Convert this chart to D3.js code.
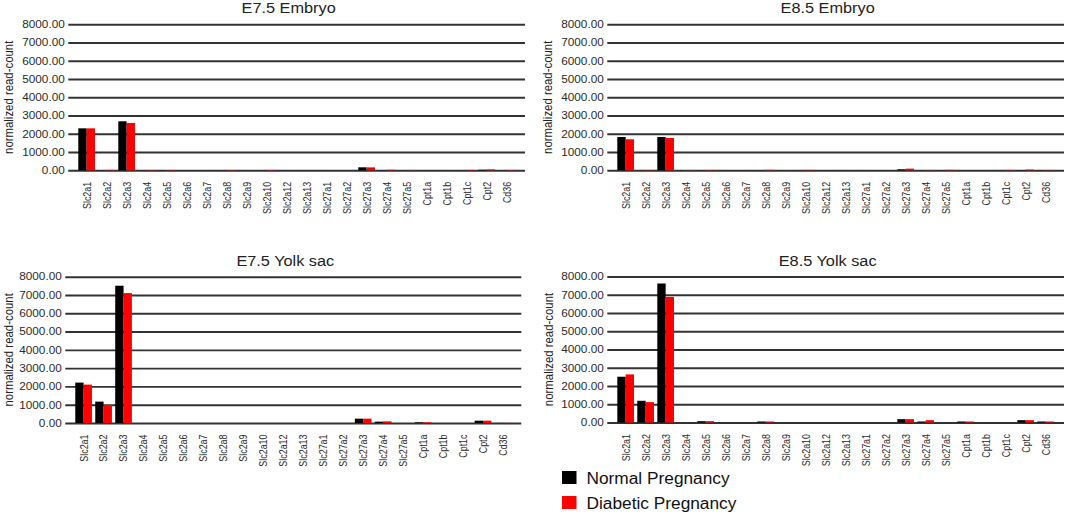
<!DOCTYPE html>
<html>
  <head>
    <meta charset="utf-8">
    <script type="text/javascript" src="https://cdn.jsdelivr.net/npm/d3@7/dist/d3.min.js"></script>
    <style>
      body { margin: 0; background: #fff; }
      svg text { font-family: "Liberation Sans", Arial, sans-serif; }
    </style>
  </head>
  <body>
    <script type="text/javascript">

    var genes = ["Slc2a1", "Slc2a2", "Slc2a3", "Slc2a4", "Slc2a5", "Slc2a6", "Slc2a7", "Slc2a8",
                 "Slc2a9", "Slc2a10", "Slc2a12", "Slc2a13", "Slc27a1", "Slc27a2", "Slc27a3",
                 "Slc27a4", "Slc27a5", "Cpt1a", "Cpt1b", "Cpt1c", "Cpt2", "Cd36"];
    var yTicks = [0, 1000, 2000, 3000, 4000, 5000, 6000, 7000, 8000];
    var seriesNames = ["Normal Pregnancy", "Diabetic Pregnancy"];
    var seriesColors = ["#000000", "#ff0000"];

    // E7.5 embryo
    var e75EmbryoNormal   = [2300, 5, 2685, 3, 5, 0, 0, 5, 0, 5, 0, 0, 0, 0, 164, 10, 5, 0, 0, 5, 30, 5];
    var e75EmbryoDiabetic = [2300, 20, 2595, 15, 15, 0, 0, 15, 0, 15, 0, 0, 0, 0, 160, 30, 5, 0, 0, 20, 50, 15];
    // E8.5 embryo
    var e85EmbryoNormal   = [1826, 5, 1826, 5, 5, 0, 0, 5, 0, 5, 0, 0, 0, 0, 55, 5, 5, 0, 0, 5, 10, 5];
    var e85EmbryoDiabetic = [1700, 20, 1772, 10, 15, 0, 0, 25, 0, 20, 0, 0, 0, 0, 90, 10, 25, 0, 0, 20, 40, 10];
    // E7.5 yolk sac
    var e75YolkNormal   = [2210, 1169, 7507, 0, 0, 0, 0, 0, 0, 0, 0, 0, 0, 0, 237, 73, 0, 37, 0, 0, 128, 5];
    var e75YolkDiabetic = [2100, 986, 7105, 0, 0, 0, 0, 0, 0, 0, 0, 0, 0, 0, 237, 91, 0, 40, 0, 0, 128, 5];
    // E8.5 yolk sac
    var e85YolkNormal   = [2508, 1190, 7616, 0, 73, 0, 0, 55, 0, 0, 0, 0, 0, 0, 183, 55, 0, 55, 0, 0, 128, 55];
    var e85YolkDiabetic = [2636, 1117, 6883, 0, 73, 0, 0, 55, 0, 0, 0, 0, 0, 0, 183, 128, 0, 55, 0, 0, 128, 55];

    var svg = d3.select("body").append("svg")
                .attr("width", 1065)
                .attr("height", 516);

    // the panels in the original look a bit wider than tall, so text is squashed vertically
    var squash = 0.87;

    function drawPanel(title, normal, diabetic, left, right, top, bottom, labelX){
      var x = d3.scaleBand().domain(genes).range([left, right])
                .paddingInner(0.165).paddingOuter(0.5);
      var sub = d3.scaleBand().domain([0, 1]).range([0, x.bandwidth()]);
      var y = d3.scaleLinear().domain([0, 8000]).range([bottom, top]);
      var g = svg.append("g");

      // gridlines + tick labels
      var yAxis = g.append("g")
                   .attr("transform", "translate(" + left + ",0)")
                   .call(d3.axisLeft(y).tickValues(yTicks).tickFormat(d3.format(".2f"))
                           .tickSize(-(right - left)).tickPadding(3.5));
      yAxis.select(".domain").remove();
      yAxis.selectAll("line").attr("stroke", "#333").attr("stroke-width", 1.9);
      yAxis.selectAll("text").attr("font-size", 11.8).attr("fill", "#2a2a2a")
           .attr("font-family", "Liberation Sans, Arial, sans-serif")
           .attr("transform", "scale(1," + squash + ")");

      // bars
      var rows = genes.map(function(d, i){ return {gene: d, vals: [normal[i], diabetic[i]]}; });
      var grp = g.selectAll(".grp").data(rows).enter().append("g")
                 .attr("transform", function(d){ return "translate(" + x(d.gene) + ",0)"; });
      grp.selectAll("rect").data(function(d){ return d.vals; }).enter().append("rect")
         .attr("x", function(d, i){ return sub(i); })
         .attr("width", sub.bandwidth())
         .attr("y", function(d){ return y(d); })
         .attr("height", function(d){ return bottom - y(d); })
         .attr("fill", function(d, i){ return seriesColors[i]; });

      // x axis labels
      var xAxis = g.append("g")
                   .attr("transform", "translate(0," + bottom + ")")
                   .call(d3.axisBottom(x).tickSize(0).tickPadding(0));
      xAxis.select(".domain").remove();
      xAxis.selectAll("text")
           .attr("font-size", 8.9).attr("fill", "#2a2a2a")
           .attr("font-family", "Liberation Sans, Arial, sans-serif")
           .attr("text-anchor", "end")
           .attr("transform", "rotate(-90) scale(1,1.25)")
           .attr("x", -11.5).attr("y", 0).attr("dy", "0.35em");

      // title
      g.append("text")
       .attr("transform", "translate(" + ((left + right) / 2 - 8) + "," + (top - 11) + ") scale(1," + squash + ")")
       .attr("text-anchor", "middle")
       .attr("font-size", 16.3).attr("fill", "#222")
       .text(title);

      // y label
      g.append("text")
       .attr("transform", "translate(" + labelX + "," + ((top + bottom) / 2) + ") rotate(-90) scale(1,1.1)")
       .attr("text-anchor", "middle")
       .attr("dy", "0.35em")
       .attr("font-size", 11.4).attr("fill", "#222")
       .text("normalized read-count");
    }

    drawPanel("E7.5 Embryo", e75EmbryoNormal, e75EmbryoDiabetic, 68.3, 525, 24.3, 170.3, 8.5);
    drawPanel("E8.5 Embryo", e85EmbryoNormal, e85EmbryoDiabetic, 607.3, 1064, 24.3, 170.3, 547.5);
    drawPanel("E7.5 Yolk sac", e75YolkNormal, e75YolkDiabetic, 65.3, 521.3, 276.7, 423, 8.5);
    drawPanel("E8.5 Yolk sac", e85YolkNormal, e85YolkDiabetic, 607.3, 1064, 276.5, 422.5, 548.3);

    // legend
    var legend = svg.append("g").attr("transform", "translate(562,471)");
    var items = legend.selectAll("g").data(seriesNames).enter().append("g")
                      .attr("transform", function(d, i){ return "translate(0," + (i * 25) + ")"; });
    items.append("rect").attr("width", 14.5).attr("height", 13)
         .attr("fill", function(d, i){ return seriesColors[i]; });
    items.append("text").attr("x", 24.5).attr("y", 12.5)
         .attr("font-size", 17.3).attr("fill", "#111")
         .text(function(d){ return d; });

    </script>
  </body>
</html>
